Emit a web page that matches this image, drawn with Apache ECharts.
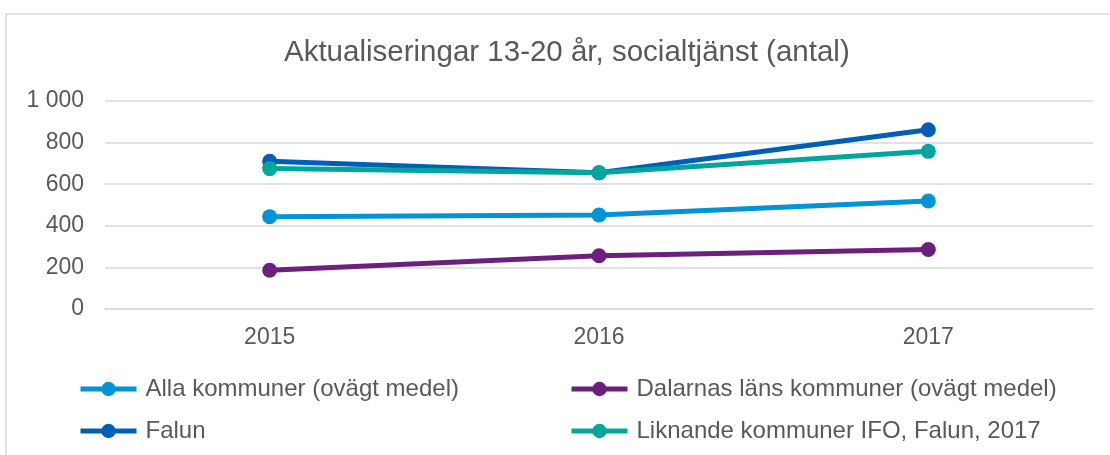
<!DOCTYPE html>
<html>
<head>
<meta charset="utf-8">
<script src="https://cdn.jsdelivr.net/npm/echarts@6/dist/echarts.min.js"></script>
<style>
  html, body { margin: 0; padding: 0; background: #fff; }
  #chart { width: 1110px; height: 455px; }
</style>
</head>
<body>
<div id="chart"></div>
<script>
const years = ['2015', '2016', '2017'];
const allaKommuner = [444, 452, 519];
const dalarna = [186, 256, 286];
const falun = [710, 655, 862];
const liknande = [675, 655, 758];

const textColor = '#595959';
const font = 'Liberation Sans, Arial, sans-serif';

function lineSeries(name, data, color) {
  return {
    name,
    type: 'line',
    data,
    symbol: 'circle',
    symbolSize: 15,
    lineStyle: { width: 5, color },
    itemStyle: { color },
  };
}

function legendBlock(left, names) {
  return {
    orient: 'vertical',
    left,
    top: 372,
    itemWidth: 56,
    itemHeight: 18,
    itemGap: 18,
    data: names,
    lineStyle: { width: 5 },
    textStyle: { color: textColor, fontSize: 24, fontFamily: font, padding: [0, 0, 0, 4] },
  };
}

const chart = echarts.init(document.getElementById('chart'));

chart.setOption({
  animation: false,
  textStyle: { fontFamily: font },
  title: {
    text: 'Aktualiseringar 13-20 år, socialtjänst (antal)',
    left: 279,
    top: 33,
    textStyle: { color: textColor, fontSize: 29.5, fontWeight: 'normal', fontFamily: font },
  },
  grid: { left: 105, right: 17, top: 101, bottom: 146 },
  legend: [
    legendBlock(73, ['Alla kommuner (ovägt medel)', 'Falun']),
    legendBlock(564, ['Dalarnas läns kommuner (ovägt medel)', 'Liknande kommuner IFO, Falun, 2017']),
  ],
  xAxis: {
    type: 'category',
    data: years,
    boundaryGap: true,
    axisLine: { lineStyle: { color: '#d9d9d9', width: 1.5 } },
    axisTick: { show: false },
    axisLabel: { color: textColor, fontSize: 23, margin: 17 },
  },
  yAxis: {
    type: 'value',
    min: 0,
    max: 1000,
    interval: 200,
    axisLine: { show: false },
    axisTick: { show: false },
    axisLabel: {
      color: textColor,
      fontSize: 23,
      margin: 21,
      formatter: (v) => String(v).replace(/\B(?=(\d{3})+(?!\d))/g, ' '),
    },
    splitLine: { lineStyle: { color: '#d9d9d9', width: 1.5 } },
  },
  series: [
    lineSeries('Alla kommuner (ovägt medel)', allaKommuner, '#0093d8'),
    lineSeries('Dalarnas läns kommuner (ovägt medel)', dalarna, '#6d1f7e'),
    lineSeries('Falun', falun, '#005eb8'),
    lineSeries('Liknande kommuner IFO, Falun, 2017', liknande, '#00a59d'),
  ],
  graphic: [
    {
      type: 'rect',
      shape: { x: 6, y: 14, width: 1200, height: 600 },
      style: { fill: 'none', stroke: '#d9d9d9', lineWidth: 1.5 },
      silent: true,
    },
  ],
});
</script>
</body>
</html>
